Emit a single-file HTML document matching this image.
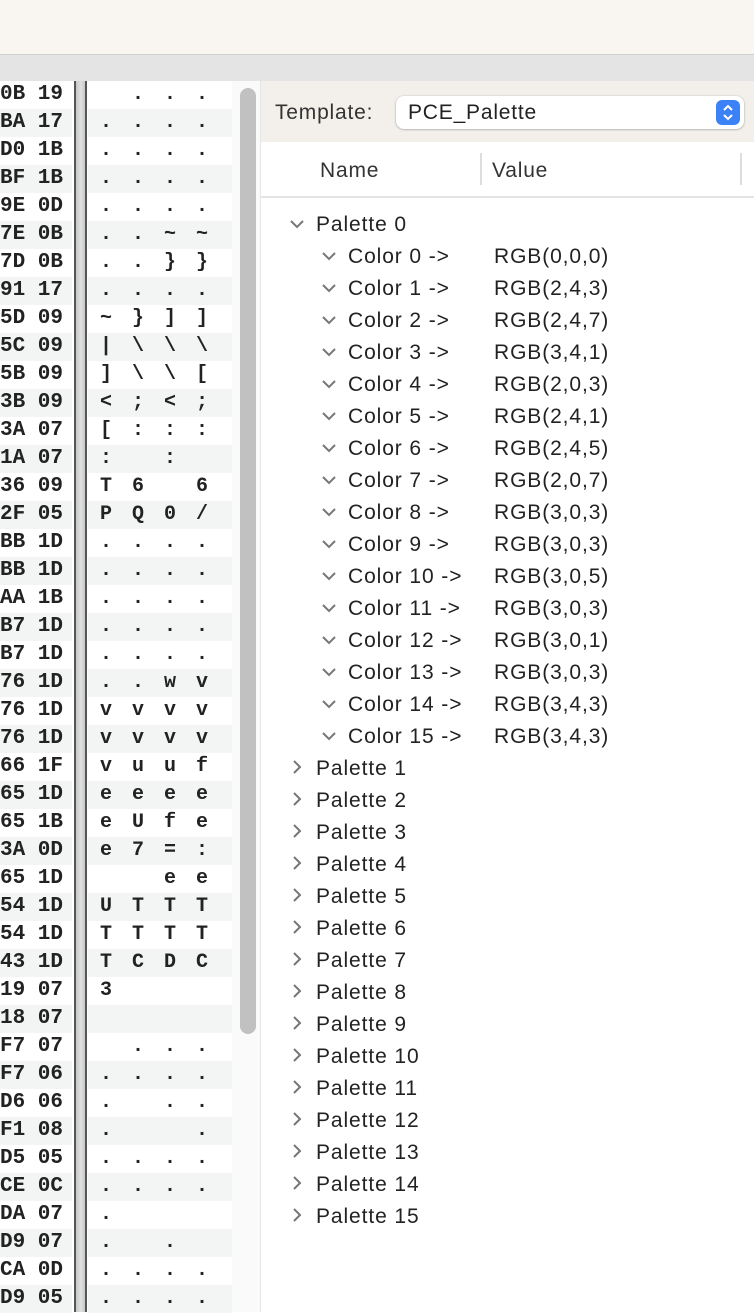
<!DOCTYPE html>
<html><head><meta charset="utf-8">
<style>
*{margin:0;padding:0;box-sizing:border-box}
body{width:754px;height:1312px;position:relative;overflow:hidden;background:#fff;font-family:"Liberation Sans",sans-serif;color:#222}
.top{position:absolute;left:0;top:0;width:754px;height:54px;background:#f9f6f1}
.bar{position:absolute;left:0;top:54px;width:754px;height:27px;background:#e4e4e4;border-top:1px solid #cfcfcf}
.hex{position:absolute;left:0;top:81px;width:72px}
.txt{position:absolute;left:88px;top:81px;width:144px}
.r{height:28px;line-height:28px;white-space:pre;font-family:"Liberation Mono",monospace;font-weight:bold;font-size:21px;overflow:hidden}
.hex .r{padding-left:0px;color:#222}
.txt .r{font-size:20px;letter-spacing:20px;padding-left:12px;width:144px}
.r:nth-child(even){background:#f3f4f4}
.div{position:absolute;left:72px;top:81px;width:16px;height:1231px;background:linear-gradient(90deg,#fff 0,#fff 2px,#555 2px,#555 4px,#c8c8c8 4px,#e0e0e0 9px,#c8c8c8 13px,#555 13px,#555 15px,#fff 15px)}
.track{position:absolute;left:232px;top:81px;width:29px;height:1231px;background:#fafafa;border-right:1px solid #e6e6e6}
.thumb{position:absolute;left:240px;top:88px;width:16px;height:946px;border-radius:8px;background:#c1c1c1}
.tpl{position:absolute;left:261px;top:81px;width:493px;height:61px;background:#f3f0eb}
.tpl .lab{position:absolute;left:14px;top:20px;font-size:21px;letter-spacing:0.8px;color:#333}
.pop{position:absolute;left:135px;top:15px;width:348px;height:33px;background:#fff;border-radius:8px;box-shadow:0 0.5px 2px rgba(0,0,0,.35)}
.pop span{position:absolute;left:12px;top:5px;font-size:21px;letter-spacing:0.8px;color:#222}
.step{position:absolute;right:4px;top:4px;width:24px;height:25px;border-radius:6px;background:#3b82f6}
.hdr{position:absolute;left:261px;top:142px;width:493px;height:56px;border-bottom:2px solid #e4e4e4}
.hdr span{position:absolute;top:17px;font-size:21px;letter-spacing:0.8px;color:#333}
.sep{position:absolute;top:11px;width:2px;height:32px;background:#ddd}
.t{position:absolute;height:32px;line-height:33px;font-size:21px;letter-spacing:0.9px;white-space:nowrap;color:#222}
.v{position:absolute}
</style></head><body>
<div class="top"></div>
<div class="bar"></div>
<div class="hex">
<div class="r">0B 19</div><div class="r">BA 17</div><div class="r">D0 1B</div><div class="r">BF 1B</div><div class="r">9E 0D</div><div class="r">7E 0B</div><div class="r">7D 0B</div><div class="r">91 17</div><div class="r">5D 09</div><div class="r">5C 09</div><div class="r">5B 09</div><div class="r">3B 09</div><div class="r">3A 07</div><div class="r">1A 07</div><div class="r">36 09</div><div class="r">2F 05</div><div class="r">BB 1D</div><div class="r">BB 1D</div><div class="r">AA 1B</div><div class="r">B7 1D</div><div class="r">B7 1D</div><div class="r">76 1D</div><div class="r">76 1D</div><div class="r">76 1D</div><div class="r">66 1F</div><div class="r">65 1D</div><div class="r">65 1B</div><div class="r">3A 0D</div><div class="r">65 1D</div><div class="r">54 1D</div><div class="r">54 1D</div><div class="r">43 1D</div><div class="r">19 07</div><div class="r">18 07</div><div class="r">F7 07</div><div class="r">F7 06</div><div class="r">D6 06</div><div class="r">F1 08</div><div class="r">D5 05</div><div class="r">CE 0C</div><div class="r">DA 07</div><div class="r">D9 07</div><div class="r">CA 0D</div><div class="r">D9 05</div>
</div>
<div class="div"></div>
<div class="txt">
<div class="r"> ...</div><div class="r">....</div><div class="r">....</div><div class="r">....</div><div class="r">....</div><div class="r">..~~</div><div class="r">..}}</div><div class="r">....</div><div class="r">~}]]</div><div class="r">|\\\</div><div class="r">]\\[</div><div class="r">&lt;;&lt;;</div><div class="r">[:::</div><div class="r">: : </div><div class="r">T6 6</div><div class="r">PQ0/</div><div class="r">....</div><div class="r">....</div><div class="r">....</div><div class="r">....</div><div class="r">....</div><div class="r">..wv</div><div class="r">vvvv</div><div class="r">vvvv</div><div class="r">vuuf</div><div class="r">eeee</div><div class="r">eUfe</div><div class="r">e7=:</div><div class="r">  ee</div><div class="r">UTTT</div><div class="r">TTTT</div><div class="r">TCDC</div><div class="r">3</div><div class="r"> </div><div class="r"> ...</div><div class="r">....</div><div class="r">. ..</div><div class="r">.  .</div><div class="r">....</div><div class="r">....</div><div class="r">.</div><div class="r">. .</div><div class="r">....</div><div class="r">....</div>
</div>
<div class="track"></div>
<div class="thumb"></div>
<div class="tpl"><div class="lab">Template:</div><div class="pop"><span>PCE_Palette</span><div class="step"><svg width="24" height="25"><path d="M8 10l4-4 4 4M8 15l4 4 4-4" stroke="#fff" stroke-width="2" fill="none"/></svg></div></div></div>
<div class="hdr"><span style="left:59px">Name</span><div class="sep" style="left:219px"></div><span style="left:231px">Value</span><div class="sep" style="left:479px"></div></div>

<div class="t" style="top:208px;left:289px"><svg width="16" height="32" style="position:absolute;left:0"><path d="M2 13l6 6 6-6" stroke="#777" stroke-width="2" fill="none"/></svg><span style="position:absolute;left:27px">Palette 0</span></div>

<div style="position:absolute;left:261px;top:240px">
<div class="t" style="top:0;left:60px;width:400px"><svg width="16" height="32" style="position:absolute;left:0"><path d="M2 13l6 6 6-6" stroke="#777" stroke-width="2" fill="none"/></svg><span style="position:absolute;left:27px">Color 0 -&gt;</span><span class="v" style="left:173px">RGB(0,0,0)</span></div>
<div class="t" style="top:32px;left:60px;width:400px"><svg width="16" height="32" style="position:absolute;left:0"><path d="M2 13l6 6 6-6" stroke="#777" stroke-width="2" fill="none"/></svg><span style="position:absolute;left:27px">Color 1 -&gt;</span><span class="v" style="left:173px">RGB(2,4,3)</span></div>
<div class="t" style="top:64px;left:60px;width:400px"><svg width="16" height="32" style="position:absolute;left:0"><path d="M2 13l6 6 6-6" stroke="#777" stroke-width="2" fill="none"/></svg><span style="position:absolute;left:27px">Color 2 -&gt;</span><span class="v" style="left:173px">RGB(2,4,7)</span></div>
<div class="t" style="top:96px;left:60px;width:400px"><svg width="16" height="32" style="position:absolute;left:0"><path d="M2 13l6 6 6-6" stroke="#777" stroke-width="2" fill="none"/></svg><span style="position:absolute;left:27px">Color 3 -&gt;</span><span class="v" style="left:173px">RGB(3,4,1)</span></div>
<div class="t" style="top:128px;left:60px;width:400px"><svg width="16" height="32" style="position:absolute;left:0"><path d="M2 13l6 6 6-6" stroke="#777" stroke-width="2" fill="none"/></svg><span style="position:absolute;left:27px">Color 4 -&gt;</span><span class="v" style="left:173px">RGB(2,0,3)</span></div>
<div class="t" style="top:160px;left:60px;width:400px"><svg width="16" height="32" style="position:absolute;left:0"><path d="M2 13l6 6 6-6" stroke="#777" stroke-width="2" fill="none"/></svg><span style="position:absolute;left:27px">Color 5 -&gt;</span><span class="v" style="left:173px">RGB(2,4,1)</span></div>
<div class="t" style="top:192px;left:60px;width:400px"><svg width="16" height="32" style="position:absolute;left:0"><path d="M2 13l6 6 6-6" stroke="#777" stroke-width="2" fill="none"/></svg><span style="position:absolute;left:27px">Color 6 -&gt;</span><span class="v" style="left:173px">RGB(2,4,5)</span></div>
<div class="t" style="top:224px;left:60px;width:400px"><svg width="16" height="32" style="position:absolute;left:0"><path d="M2 13l6 6 6-6" stroke="#777" stroke-width="2" fill="none"/></svg><span style="position:absolute;left:27px">Color 7 -&gt;</span><span class="v" style="left:173px">RGB(2,0,7)</span></div>
<div class="t" style="top:256px;left:60px;width:400px"><svg width="16" height="32" style="position:absolute;left:0"><path d="M2 13l6 6 6-6" stroke="#777" stroke-width="2" fill="none"/></svg><span style="position:absolute;left:27px">Color 8 -&gt;</span><span class="v" style="left:173px">RGB(3,0,3)</span></div>
<div class="t" style="top:288px;left:60px;width:400px"><svg width="16" height="32" style="position:absolute;left:0"><path d="M2 13l6 6 6-6" stroke="#777" stroke-width="2" fill="none"/></svg><span style="position:absolute;left:27px">Color 9 -&gt;</span><span class="v" style="left:173px">RGB(3,0,3)</span></div>
<div class="t" style="top:320px;left:60px;width:400px"><svg width="16" height="32" style="position:absolute;left:0"><path d="M2 13l6 6 6-6" stroke="#777" stroke-width="2" fill="none"/></svg><span style="position:absolute;left:27px">Color 10 -&gt;</span><span class="v" style="left:173px">RGB(3,0,5)</span></div>
<div class="t" style="top:352px;left:60px;width:400px"><svg width="16" height="32" style="position:absolute;left:0"><path d="M2 13l6 6 6-6" stroke="#777" stroke-width="2" fill="none"/></svg><span style="position:absolute;left:27px">Color 11 -&gt;</span><span class="v" style="left:173px">RGB(3,0,3)</span></div>
<div class="t" style="top:384px;left:60px;width:400px"><svg width="16" height="32" style="position:absolute;left:0"><path d="M2 13l6 6 6-6" stroke="#777" stroke-width="2" fill="none"/></svg><span style="position:absolute;left:27px">Color 12 -&gt;</span><span class="v" style="left:173px">RGB(3,0,1)</span></div>
<div class="t" style="top:416px;left:60px;width:400px"><svg width="16" height="32" style="position:absolute;left:0"><path d="M2 13l6 6 6-6" stroke="#777" stroke-width="2" fill="none"/></svg><span style="position:absolute;left:27px">Color 13 -&gt;</span><span class="v" style="left:173px">RGB(3,0,3)</span></div>
<div class="t" style="top:448px;left:60px;width:400px"><svg width="16" height="32" style="position:absolute;left:0"><path d="M2 13l6 6 6-6" stroke="#777" stroke-width="2" fill="none"/></svg><span style="position:absolute;left:27px">Color 14 -&gt;</span><span class="v" style="left:173px">RGB(3,4,3)</span></div>
<div class="t" style="top:480px;left:60px;width:400px"><svg width="16" height="32" style="position:absolute;left:0"><path d="M2 13l6 6 6-6" stroke="#777" stroke-width="2" fill="none"/></svg><span style="position:absolute;left:27px">Color 15 -&gt;</span><span class="v" style="left:173px">RGB(3,4,3)</span></div>
</div>
<div style="position:absolute;left:289px;top:752px">
<div class="t" style="top:0;width:200px"><svg width="16" height="32" style="position:absolute;left:0"><path d="M5 9l6 6-6 6" stroke="#777" stroke-width="2" fill="none"/></svg><span style="position:absolute;left:27px">Palette 1</span></div>
<div class="t" style="top:32px;width:200px"><svg width="16" height="32" style="position:absolute;left:0"><path d="M5 9l6 6-6 6" stroke="#777" stroke-width="2" fill="none"/></svg><span style="position:absolute;left:27px">Palette 2</span></div>
<div class="t" style="top:64px;width:200px"><svg width="16" height="32" style="position:absolute;left:0"><path d="M5 9l6 6-6 6" stroke="#777" stroke-width="2" fill="none"/></svg><span style="position:absolute;left:27px">Palette 3</span></div>
<div class="t" style="top:96px;width:200px"><svg width="16" height="32" style="position:absolute;left:0"><path d="M5 9l6 6-6 6" stroke="#777" stroke-width="2" fill="none"/></svg><span style="position:absolute;left:27px">Palette 4</span></div>
<div class="t" style="top:128px;width:200px"><svg width="16" height="32" style="position:absolute;left:0"><path d="M5 9l6 6-6 6" stroke="#777" stroke-width="2" fill="none"/></svg><span style="position:absolute;left:27px">Palette 5</span></div>
<div class="t" style="top:160px;width:200px"><svg width="16" height="32" style="position:absolute;left:0"><path d="M5 9l6 6-6 6" stroke="#777" stroke-width="2" fill="none"/></svg><span style="position:absolute;left:27px">Palette 6</span></div>
<div class="t" style="top:192px;width:200px"><svg width="16" height="32" style="position:absolute;left:0"><path d="M5 9l6 6-6 6" stroke="#777" stroke-width="2" fill="none"/></svg><span style="position:absolute;left:27px">Palette 7</span></div>
<div class="t" style="top:224px;width:200px"><svg width="16" height="32" style="position:absolute;left:0"><path d="M5 9l6 6-6 6" stroke="#777" stroke-width="2" fill="none"/></svg><span style="position:absolute;left:27px">Palette 8</span></div>
<div class="t" style="top:256px;width:200px"><svg width="16" height="32" style="position:absolute;left:0"><path d="M5 9l6 6-6 6" stroke="#777" stroke-width="2" fill="none"/></svg><span style="position:absolute;left:27px">Palette 9</span></div>
<div class="t" style="top:288px;width:200px"><svg width="16" height="32" style="position:absolute;left:0"><path d="M5 9l6 6-6 6" stroke="#777" stroke-width="2" fill="none"/></svg><span style="position:absolute;left:27px">Palette 10</span></div>
<div class="t" style="top:320px;width:200px"><svg width="16" height="32" style="position:absolute;left:0"><path d="M5 9l6 6-6 6" stroke="#777" stroke-width="2" fill="none"/></svg><span style="position:absolute;left:27px">Palette 11</span></div>
<div class="t" style="top:352px;width:200px"><svg width="16" height="32" style="position:absolute;left:0"><path d="M5 9l6 6-6 6" stroke="#777" stroke-width="2" fill="none"/></svg><span style="position:absolute;left:27px">Palette 12</span></div>
<div class="t" style="top:384px;width:200px"><svg width="16" height="32" style="position:absolute;left:0"><path d="M5 9l6 6-6 6" stroke="#777" stroke-width="2" fill="none"/></svg><span style="position:absolute;left:27px">Palette 13</span></div>
<div class="t" style="top:416px;width:200px"><svg width="16" height="32" style="position:absolute;left:0"><path d="M5 9l6 6-6 6" stroke="#777" stroke-width="2" fill="none"/></svg><span style="position:absolute;left:27px">Palette 14</span></div>
<div class="t" style="top:448px;width:200px"><svg width="16" height="32" style="position:absolute;left:0"><path d="M5 9l6 6-6 6" stroke="#777" stroke-width="2" fill="none"/></svg><span style="position:absolute;left:27px">Palette 15</span></div>
</div>
</body></html>
